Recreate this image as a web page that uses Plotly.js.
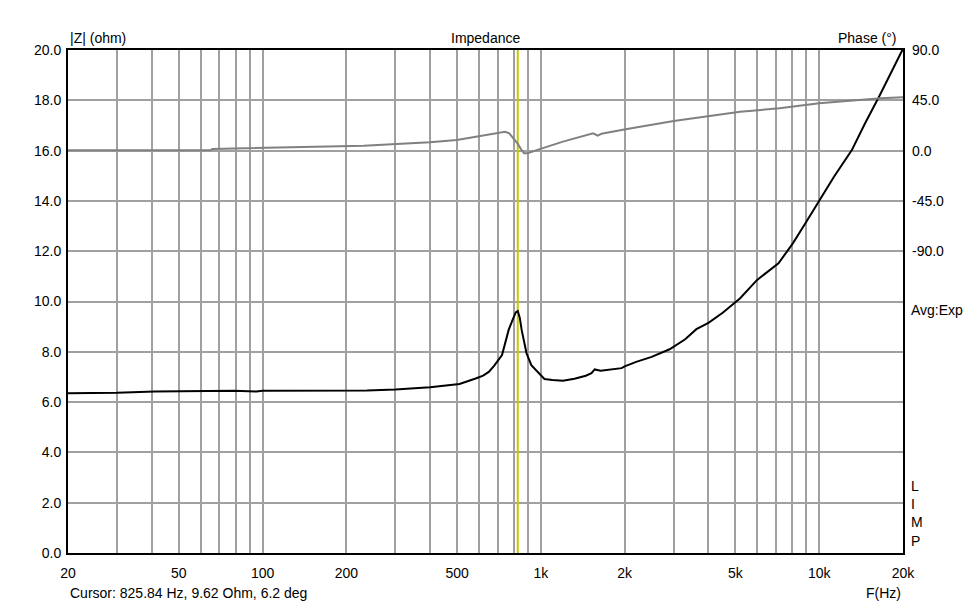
<!DOCTYPE html>
<html>
<head>
<meta charset="utf-8">
<script src="https://cdn.plot.ly/plotly-3.0.1.min.js"></script>
<style>
html,body{margin:0;padding:0;background:#fff;}
#chart{width:972px;height:605px;}
</style>
</head>
<body>
<div id="chart"></div>
<script>
// Impedance magnitude (ohm) vs frequency (Hz)
const zFreq = [20,29,30,41,79,95,100,237,300,400,510,583,620,650,680,725,766,790,812,826,840,853,870,888,924,975,1030,1100,1200,1320,1450,1520,1560,1640,1800,1950,2000,2200,2500,2900,3300,3620,4000,4500,5200,5970,7140,8040,8840,9970,11300,13100,14600,16400,18100,19800,20000];
const zOhm  = [6.35,6.36,6.37,6.42,6.45,6.42,6.45,6.46,6.50,6.59,6.72,6.94,7.05,7.20,7.45,7.87,8.87,9.25,9.57,9.62,9.35,8.87,8.35,7.94,7.47,7.21,6.92,6.88,6.85,6.93,7.05,7.15,7.30,7.25,7.30,7.35,7.42,7.60,7.80,8.10,8.50,8.90,9.15,9.55,10.13,10.85,11.52,12.31,13.04,13.97,14.96,16.02,17.08,18.14,19.07,19.93,20.05];
// Phase (deg) vs frequency (Hz)
const pFreq = [20,65,66,133,231,303,399,499,583,650,743,770,800,825,850,870,895,950,1010,1200,1540,1600,1650,2040,3000,5200,7200,10000,16600,20000];
const pDeg  = [0.3,0.3,1.4,2.9,4.4,5.9,7.4,9.5,12.4,15.0,16.9,15.5,10.5,6.2,1.0,-2.4,-2.4,-0.5,2.0,8.0,15.5,13.4,15.0,19.3,26.5,34.8,37.8,42.3,46.8,47.7];
// Cursor
const cursorFreq = 825.84;
const cursorText = "Cursor: 825.84 Hz, 9.62 Ohm, 6.2 deg";
// Axis ticks
const xTickVals = [20,30,40,50,60,70,80,90,100,200,300,400,500,600,700,800,900,1000,2000,3000,4000,5000,6000,7000,8000,9000,10000,20000];
const xTickText = ["20","","","50","","","","","100","200","","","500","","","","","1k","2k","","","5k","","","","","10k","20k"];
const yTickVals = [0,2,4,6,8,10,12,14,16,18,20];
const y2TickVals = [90,45,0,-45,-90];
const y2TickText = ["90.0","45.0","0.0","-45.0","-90.0"];

const font = {family: "Liberation Sans, Arial, sans-serif", size: 14, color: "#000"};
const gridCol = "#a0a0a0";

const traces = [
  {x: [cursorFreq, cursorFreq], y: [0, 20], mode: "lines", line: {color: "#c8c800", width: 2}, hoverinfo: "skip", showlegend: false},
  {x: pFreq, y: pDeg, yaxis: "y2", mode: "lines", line: {color: "#808080", width: 2}, showlegend: false},
  {x: zFreq, y: zOhm, mode: "lines", line: {color: "#000000", width: 2}, showlegend: false}
];

const layout = {
  width: 972, height: 605,
  margin: {l: 68, r: 69, t: 50, b: 52},
  paper_bgcolor: "#fff", plot_bgcolor: "#fff",
  font: font,
  showlegend: false,
  xaxis: {
    type: "log", range: [Math.log10(20), Math.log10(20000)],
    tickvals: xTickVals, ticktext: xTickText, tickmode: "array",
    showgrid: true, gridcolor: gridCol, gridwidth: 2,
    showline: true, linecolor: "#000", linewidth: 2, mirror: true,
    ticks: "", ticklabelstandoff: 6, zeroline: false, tickfont: font
  },
  yaxis: {
    range: [0, 20], tickvals: yTickVals, tickformat: ".1f", tickmode: "array",
    showgrid: true, gridcolor: gridCol, gridwidth: 2,
    showline: true, linecolor: "#000", linewidth: 2, mirror: true,
    ticks: "", zeroline: false, tickfont: font, ticklabelstandoff: 2
  },
  yaxis2: {
    overlaying: "y", side: "right", range: [-360, 90],
    tickvals: y2TickVals, ticktext: y2TickText, tickmode: "array",
    showgrid: false, zeroline: false, showline: false, ticks: "",
    tickfont: font, ticklabelstandoff: 8
  },
  annotations: [
    {text: "|Z| (ohm)", xref: "paper", yref: "paper", x: 0, y: 1, xanchor: "left", yanchor: "bottom", yshift: 2, showarrow: false, font: font},
    {text: "Impedance", xref: "paper", yref: "paper", x: 0.5, y: 1, xanchor: "center", yanchor: "bottom", yshift: 2, showarrow: false, font: font},
    {text: "Phase (°)", xref: "paper", yref: "paper", x: 1, y: 1, xanchor: "right", yanchor: "bottom", xshift: -4, yshift: 2, showarrow: false, font: font},
    {text: "Avg:Exp", xref: "paper", yref: "y", x: 1, y: 9.65, xanchor: "left", yanchor: "middle", xshift: 6, showarrow: false, font: font},
    {text: "L<br>I<br>M<br>P", xref: "paper", yref: "y", x: 1, y: 0, xanchor: "left", yanchor: "bottom", xshift: 6, yshift: 2, showarrow: false, font: font, align: "left"},
    {text: cursorText, xref: "paper", yref: "paper", x: 0, y: 0, xanchor: "left", yanchor: "middle", yshift: -40, showarrow: false, font: font},
    {text: "F(Hz)", xref: "paper", yref: "paper", x: 1, y: 0, xanchor: "right", yanchor: "middle", yshift: -40, showarrow: false, font: font}
  ]
};

Plotly.newPlot("chart", traces, layout, {staticPlot: true, displayModeBar: false});
</script>
</body>
</html>
